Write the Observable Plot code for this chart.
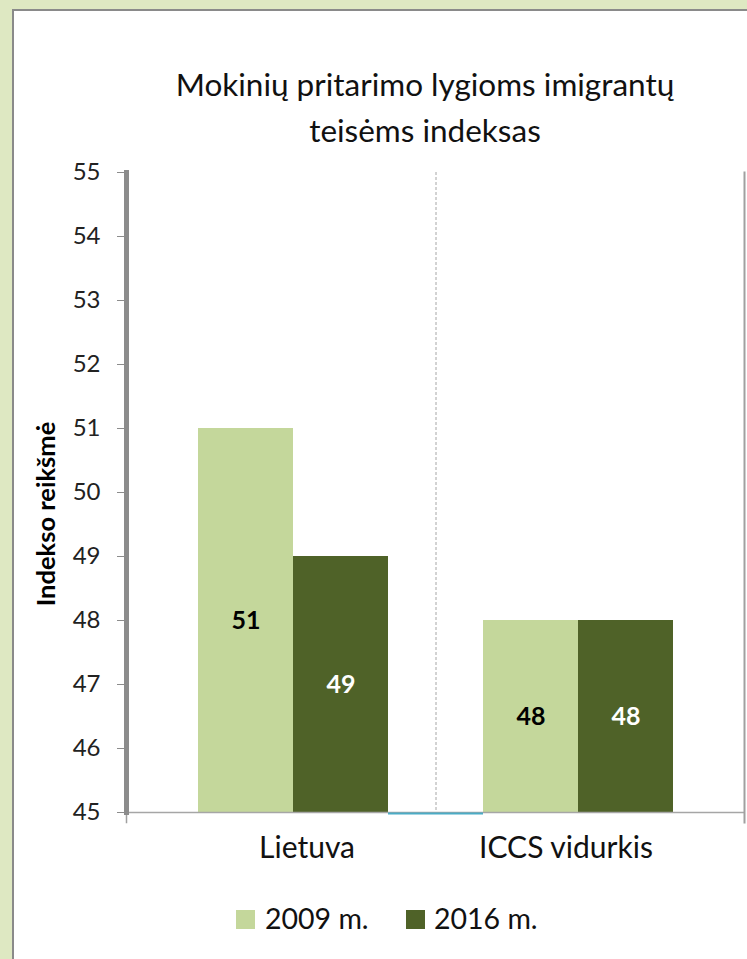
<!DOCTYPE html>
<html><head><meta charset="utf-8">
<script src="https://cdn.jsdelivr.net/npm/d3@7"></script>
<script src="https://cdn.jsdelivr.net/npm/@observablehq/plot@0.6"></script>
<style>
body{margin:0;width:747px;height:959px;overflow:hidden;background:#dee8c2;font-family:Lato,sans-serif;position:relative}
#panel{position:absolute;left:12px;top:9px;width:760px;height:980px;background:#fff;border:2.5px solid #8a8a8a;box-sizing:border-box}
#title{position:absolute;left:0;width:850px;top:61px;text-align:center;font-size:31.5px;line-height:46px;color:#111}
#ylab{position:absolute;left:45px;top:514px;transform:translate(-50%,-50%) rotate(-90deg);font-weight:bold;font-size:25.5px;color:#000;white-space:nowrap}
#chart{position:absolute;left:0;top:0}
.lg{position:absolute;font-size:28.5px;line-height:30px;color:#111;white-space:nowrap}
.sw{position:absolute;width:19px;height:19px}
</style></head>
<body>
<div id="panel"></div>
<div id="title">Mokinių pritarimo lygioms imigrantų<br>teisėms indeksas</div>
<div id="chart"></div>
<div id="ylab">Indekso reikšmė</div>
<div id="legend"></div>
<script>
const categories = ["Lietuva", "ICCS vidurkis"];
const series = ["2009 m.", "2016 m."];
const values2009 = [51, 48];
const values2016 = [49, 48];
const yTicks = [45, 46, 47, 48, 49, 50, 51, 52, 53, 54, 55];
const colors = ["#c4d79b", "#4f6228"];
const gapSlot = "tarpas";

const slot = (c, s) => c + " · " + s;
const slotDomain = [slot(categories[0], series[0]), slot(categories[0], series[1]), gapSlot,
                    slot(categories[1], series[0]), slot(categories[1], series[1])];
const rows = categories.flatMap((c, i) => [
  {cat: c, series: series[0], value: values2009[i]},
  {cat: c, series: series[1], value: values2016[i]}
]).map(d => ({...d, slot: slot(d.cat, d.series)}));

const base = yTicks[0];

const chart = Plot.plot({
  width: 747,
  height: 870,
  marginLeft: 126,
  marginRight: 3,
  marginTop: 172,
  marginBottom: 58,
  style: {fontFamily: "Lato, sans-serif", background: "transparent", overflow: "visible"},
  x: {type: "band", domain: slotDomain, paddingInner: 0, paddingOuter: 0.7526, axis: null},
  y: {domain: [yTicks[0], yTicks[yTicks.length - 1]]},
  color: {domain: series, range: colors},
  marks: [
    Plot.barY(rows, {x: "slot", y1: base, y2: "value", fill: "series"}),
    Plot.ruleX([gapSlot], {x: d => d, stroke: "#a6a6a6", strokeWidth: 1, strokeDasharray: "3,2"}),
    Plot.ruleY([base], {stroke: "#a6a6a6", strokeWidth: 1.5}),
    Plot.tickY([gapSlot], {x: d => d, y: () => base, stroke: "#4bacc6", strokeWidth: 2, dy: 1}),
    Plot.frame({anchor: "left", stroke: "#a0a0a0", strokeWidth: 1.5, insetBottom: -10}),
    Plot.frame({anchor: "left", stroke: "#8c8c8c", strokeWidth: 5}),
    Plot.frame({anchor: "right", stroke: "#a0a0a0", strokeWidth: 2, insetBottom: -10}),
    Plot.axisY(yTicks, {tickSize: 9, tickPadding: 17, stroke: "#8c8c8c", fill: "#222", fontSize: 24, label: null, tickFormat: d => String(d)}),
    Plot.text(rows.filter(d => d.series === series[0]), {x: "slot", y: d => (base + d.value) / 2, text: d => String(d.value), fill: "#000", fontWeight: "bold", fontSize: 25}),
    Plot.text(rows.filter(d => d.series === series[1]), {x: "slot", y: d => (base + d.value) / 2, text: d => String(d.value), fill: "#fff", fontWeight: "bold", fontSize: 25}),
    Plot.text([categories[0]], {x: d => slot(d, series[1]), text: d => d, frameAnchor: "bottom", dy: 45, dx: -34, fontSize: 30, fill: "#111"}),
    Plot.text([categories[1]], {x: d => slot(d, series[0]), text: d => d, frameAnchor: "bottom", dy: 45, dx: 35, fontSize: 30, fill: "#111"})
  ]
});
document.getElementById("chart").appendChild(chart);

const legend = document.getElementById("legend");
const swX = [236, 406], txX = [265, 434];
series.forEach((s, i) => {
  const sw = document.createElement("div");
  sw.className = "sw"; sw.style.left = swX[i] + "px"; sw.style.top = "910px"; sw.style.background = colors[i];
  legend.appendChild(sw);
  const t = document.createElement("div");
  t.className = "lg"; t.style.left = txX[i] + "px"; t.style.top = "903px"; t.textContent = s;
  legend.appendChild(t);
});
</script>
</body></html>
